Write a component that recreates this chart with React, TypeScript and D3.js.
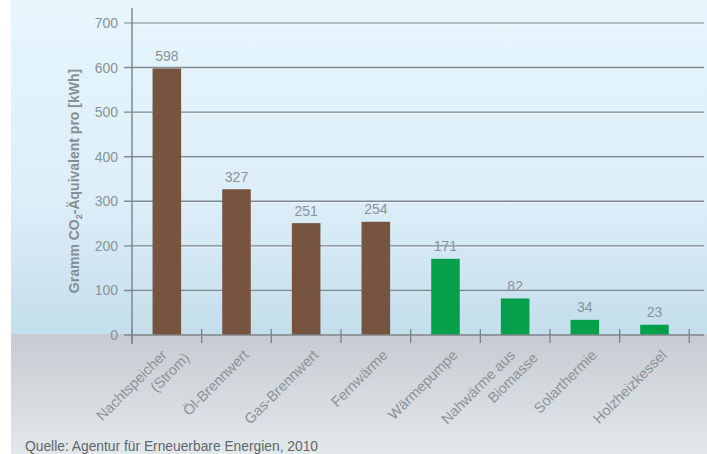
import React from "react";
import * as d3 from "d3";

const categories = ["Nachtspeicher (Strom)", "Öl-Brennwert", "Gas-Brennwert", "Fernwärme", "Wärmepumpe", "Nahwärme aus Biomasse", "Solarthermie", "Holzheizkessel"];
const labelLines = [["Nachtspeicher", "(Strom)"], ["Öl-Brennwert"], ["Gas-Brennwert"], ["Fernwärme"], ["Wärmepumpe"], ["Nahwärme aus", "Biomasse"], ["Solarthermie"], ["Holzheizkessel"]];
const values = [598, 327, 251, 254, 171, 82, 34, 23];
const groups = ["fossil", "fossil", "fossil", "fossil", "erneuerbar", "erneuerbar", "erneuerbar", "erneuerbar"];
const yTicks = [0, 100, 200, 300, 400, 500, 600, 700];
const source = "Quelle: Agentur für Erneuerbare Energien, 2010";

const W = 707, H = 454;
const font = "'Liberation Sans', Arial, Helvetica, sans-serif";
const textGray = "#8a9398";

export default function App() {
  const x = d3.scaleBand<string>().domain(categories).range([132, 689.3]).paddingInner(0.59).paddingOuter(0.295);
  const step = x.step();
  const x0 = 132;
  const y = d3.scaleLinear().domain([0, 700]).range([335, 23]);
  const color = d3.scaleOrdinal<string, string>().domain(["fossil", "erneuerbar"]).range(["#775440", "#06a04a"]);
  const boundaries = d3.range(categories.length + 1).map(i => x0 + i * step);

  return (
    <svg width={W} height={H} style={{ position: "absolute", left: 0, top: 0, display: "block" }} fontFamily={font}>
      <defs>
        <linearGradient id="bgTop" x1="0" y1="0" x2="0" y2="1">
          <stop offset="0" stopColor="#e7f6fd" />
          <stop offset="0.6" stopColor="#dceef8" />
          <stop offset="1" stopColor="#c4deec" />
        </linearGradient>
        <linearGradient id="bgBot" x1="0" y1="0" x2="0" y2="1">
          <stop offset="0" stopColor="#c5cbd0" />
          <stop offset="1" stopColor="#e3e8eb" />
        </linearGradient>
      </defs>
      <rect x={0} y={0} width={W} height={H} fill="#ffffff" />
      <rect x={11} y={0} width={W - 11} height={334} fill="url(#bgTop)" />
      <rect x={11} y={334} width={W - 11} height={H - 334} fill="url(#bgBot)" />

      {yTicks.filter(t => t > 0).map(t => (
        <g key={"g" + t}>
          <line x1={124} x2={704} y1={y(t)} y2={y(t)} stroke="#808a92" strokeWidth={1.4} opacity={t === 700 ? 0.7 : 1} />
          <line x1={132} x2={704} y1={y(t) + 1.4} y2={y(t) + 1.4} stroke="#ffffff" strokeWidth={0.8} opacity={0.5} />
        </g>
      ))}

      <line x1={x0} x2={x0} y1={8} y2={344} stroke="#7a8388" strokeWidth={1.4} />
      <line x1={124} x2={132} y1={y(0)} y2={y(0)} stroke="#7a8388" strokeWidth={1.4} />
      {yTicks.map(t => (
        <text key={"t" + t} x={118} y={y(t)} dy="0.36em" textAnchor="end" fontSize={14} fill={textGray}>{t}</text>
      ))}

      <text transform={`translate(78.5,181) rotate(-90)`} textAnchor="middle" fontSize={14} fontWeight="bold" fill="#868e93">
        Gramm CO<tspan fontSize={9} dy={3}>2</tspan><tspan dy={-3}>-Äquivalent pro [kWh]</tspan>
      </text>

      {categories.map((c, i) => (
        <rect key={"b" + c} x={x(c)!} y={y(values[i])} width={x.bandwidth()} height={y(0) - y(values[i])} fill={color(groups[i])} />
      ))}
      {categories.map((c, i) => (
        <text key={"v" + c} x={x(c)! + x.bandwidth() / 2} y={y(values[i]) - 7.5} textAnchor="middle" fontSize={14} fill={textGray}>{values[i]}</text>
      ))}

      <line x1={x0} x2={704} y1={y(0)} y2={y(0)} stroke="#7f878c" strokeWidth={1.6} />
      {boundaries.map((b, i) => (
        <line key={"xt" + i} x1={b} x2={b} y1={329} y2={343} stroke="#7a8388" strokeWidth={1.3} />
      ))}

      {categories.map((c, i) => {
        const cx = x(c)! + x.bandwidth() / 2;
        const lines = labelLines[i];
        return (
          <g key={"l" + c} transform={`translate(${cx + 13},356) rotate(-45)`}>
            {lines.length === 1 ? (
              <text textAnchor="end" fontSize={14.5} fill={textGray}>{lines[0]}</text>
            ) : (
              <>
                <text x={-8.5} y={-8.5} textAnchor="end" fontSize={14.5} fill={textGray}>{lines[0]}</text>
                <text x={5.5} y={9.5} textAnchor="end" fontSize={14.5} fill={textGray}>{lines[1]}</text>
              </>
            )}
          </g>
        );
      })}

      <text x={25} y={451} fontSize={13.8} fill="#5f666b">{source}</text>
    </svg>
  );
}
